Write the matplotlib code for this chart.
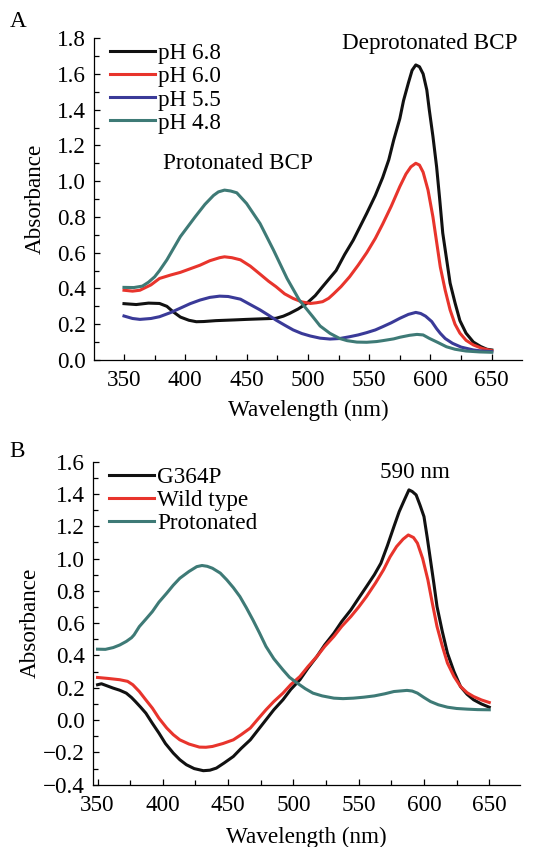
import matplotlib.pyplot as plt
from matplotlib.ticker import MultipleLocator

plt.rcParams['font.family'] = ['Liberation Serif', 'DejaVu Serif']

# Panel A: BCP spectra at different pH
wl_a68 = [350, 360, 370, 379, 385, 390, 396, 403, 409, 415, 425, 440, 450, 462, 474, 480, 485, 492, 499,
          506, 512, 523, 530, 537, 548, 555, 561, 566, 570, 575, 578, 582, 585, 588, 591, 594, 597, 599,
          602, 605, 607.5, 610, 613, 616, 620, 624, 629, 635, 641, 646, 650]
abs_a68 = [0.315, 0.31, 0.318, 0.316, 0.30, 0.27, 0.24, 0.222, 0.214, 0.215, 0.22, 0.224, 0.227, 0.23,
           0.233, 0.245, 0.26, 0.285, 0.316, 0.36, 0.41, 0.50, 0.59, 0.67, 0.82, 0.92, 1.02, 1.12, 1.23,
           1.35, 1.45, 1.55, 1.62, 1.65, 1.64, 1.60, 1.51, 1.40, 1.25, 1.08, 0.90, 0.71, 0.57, 0.43, 0.32,
           0.22, 0.15, 0.10, 0.075, 0.06, 0.056]

wl_a60 = [350, 357, 363, 372, 379, 388, 396, 404, 412, 420, 428, 432, 438, 445, 453, 461, 468, 474, 481,
          488, 495, 502, 507, 512, 517, 521, 527, 534, 541, 548, 555, 561, 568, 575, 580, 584, 588, 591,
          594, 598, 602, 605, 608, 612, 616, 620, 624, 629, 635, 642, 650]
abs_a60 = [0.39, 0.385, 0.39, 0.42, 0.456, 0.475, 0.49, 0.51, 0.53, 0.555, 0.572, 0.577, 0.572, 0.56,
           0.525, 0.48, 0.44, 0.41, 0.37, 0.344, 0.325, 0.316, 0.32, 0.326, 0.345, 0.37, 0.41, 0.465, 0.53,
           0.60, 0.68, 0.76, 0.86, 0.97, 1.04, 1.08, 1.10, 1.09, 1.05, 0.95, 0.80, 0.66, 0.52, 0.39, 0.28,
           0.20, 0.15, 0.11, 0.084, 0.065, 0.052]

wl_a55 = [350, 357, 363, 372, 379, 388, 396, 404, 412, 420, 428, 435, 445, 453, 461, 468, 474, 481, 488,
          495, 502, 510, 518, 526, 534, 541, 548, 555, 561, 568, 575, 582, 588, 592, 596, 601, 605, 608,
          612, 618, 625, 635, 642, 650]
abs_a55 = [0.246, 0.232, 0.227, 0.232, 0.242, 0.265, 0.29, 0.315, 0.335, 0.35, 0.357, 0.355, 0.34, 0.31,
           0.28, 0.25, 0.223, 0.195, 0.168, 0.148, 0.134, 0.122, 0.117, 0.12, 0.13, 0.14, 0.153, 0.168,
           0.186, 0.208, 0.233, 0.255, 0.266, 0.26, 0.245, 0.215, 0.175, 0.149, 0.12, 0.093, 0.072, 0.056,
           0.05, 0.047]

wl_a48 = [350, 358, 365, 370, 375, 379, 385, 396, 408, 416, 423, 427, 432, 437, 442, 450, 461, 472, 483,
          493, 504, 510, 518, 526, 532, 540, 548, 556, 561, 570, 575, 583, 589, 594, 599, 606, 613, 620,
          629, 640, 650]
abs_a48 = [0.406, 0.405, 0.413, 0.435, 0.465, 0.50, 0.56, 0.69, 0.80, 0.87, 0.92, 0.94, 0.95, 0.945,
           0.935, 0.875, 0.763, 0.614, 0.456, 0.335, 0.242, 0.19, 0.149, 0.12, 0.108, 0.10, 0.099, 0.103,
           0.108, 0.118, 0.127, 0.138, 0.143, 0.14, 0.121, 0.098, 0.074, 0.06, 0.05, 0.045, 0.043]

# Panel B: difference spectra
wl_b_g364p = [350, 353, 358, 362, 367, 372, 376, 379, 383, 387, 392, 397, 402, 408, 413, 418, 424, 431,
              436, 441, 447, 454, 460, 467, 473, 479, 485, 492, 498, 505, 511, 518, 524, 531, 537, 544,
              550, 556, 562, 567, 572, 577, 581, 585, 588.5, 591, 594, 597, 600, 602.5, 605, 607.5, 610,
              614, 618, 623, 628, 633, 638, 644, 650]
abs_b_g364p = [0.219, 0.225, 0.21, 0.198, 0.185, 0.167, 0.14, 0.115, 0.08, 0.043, -0.02, -0.08, -0.145,
               -0.204, -0.245, -0.276, -0.30, -0.313, -0.31, -0.297, -0.265, -0.225, -0.175, -0.122, -0.06,
               0.002, 0.064, 0.126, 0.19, 0.25, 0.32, 0.394, 0.466, 0.538, 0.61, 0.682, 0.755, 0.827, 0.90,
               0.971, 1.08, 1.198, 1.29, 1.363, 1.425, 1.415, 1.394, 1.33, 1.26, 1.13, 0.99, 0.85, 0.703,
               0.55, 0.414, 0.30, 0.208, 0.16, 0.126, 0.10, 0.08]

wl_b_wt = [350, 358, 367, 373, 377, 382, 387, 392, 397, 403, 408, 413, 420, 428, 433, 438, 446, 454, 460,
           467, 473, 479, 485, 492, 498, 505, 511, 518, 524, 531, 537, 544, 550, 556, 563, 569, 574, 579,
           584, 588, 592, 595, 599, 603, 606.5, 610, 614, 618, 623, 628, 633, 638, 644, 650]
abs_b_wt = [0.264, 0.258, 0.25, 0.24, 0.219, 0.177, 0.125, 0.074, 0.012, -0.049, -0.09, -0.122, -0.148,
            -0.167, -0.168, -0.163, -0.145, -0.122, -0.09, -0.049, 0.008, 0.064, 0.115, 0.167, 0.22, 0.27,
            0.33, 0.394, 0.456, 0.518, 0.58, 0.641, 0.70, 0.765, 0.85, 0.93, 1.01, 1.074, 1.12, 1.146,
            1.13, 1.095, 1.0, 0.868, 0.72, 0.579, 0.46, 0.353, 0.27, 0.208, 0.17, 0.146, 0.125, 0.109]

wl_b_prot = [350, 356, 362, 367, 372, 376, 378, 382, 387, 392, 397, 403, 408, 413, 420, 426, 430, 434,
             438, 444, 449, 454, 459, 464, 469, 474, 479, 485, 492, 497, 503, 509, 515, 522, 531, 538,
             546, 554, 562, 570, 577, 587, 591, 595, 600, 605, 611, 618, 625, 633, 641, 650]
abs_b_prot = [0.439, 0.438, 0.449, 0.465, 0.487, 0.51, 0.528, 0.579, 0.625, 0.672, 0.73, 0.786, 0.835,
              0.878, 0.92, 0.95, 0.957, 0.952, 0.94, 0.91, 0.868, 0.82, 0.765, 0.695, 0.62, 0.54, 0.456,
              0.38, 0.311, 0.265, 0.229, 0.195, 0.167, 0.15, 0.136, 0.133, 0.136, 0.142, 0.15, 0.163,
              0.177, 0.184, 0.18, 0.167, 0.14, 0.115, 0.095, 0.08, 0.072, 0.068, 0.065, 0.064]

black = '#111111'
red = '#e8342c'
blue = '#3a3a98'
teal = '#3e7a76'

fig = plt.figure(figsize=(5.43, 8.47), dpi=100)
axA = fig.add_axes([0.173, 0.575, 0.788, 0.380])
axB = fig.add_axes([0.171, 0.0735, 0.787, 0.3815])

lw = 2.2
fs = 16.7


def style(ax, xpad, ypad):
    for s in ['top', 'right']:
        ax.spines[s].set_visible(False)
    for s in ['left', 'bottom']:
        ax.spines[s].set_linewidth(0.9)
    ax.xaxis.set_major_locator(MultipleLocator(50))
    ax.xaxis.set_minor_locator(MultipleLocator(25))
    ax.yaxis.set_major_locator(MultipleLocator(0.2))
    ax.yaxis.set_minor_locator(MultipleLocator(0.1))
    ax.tick_params(which='both', direction='in', labelsize=fs, width=0.9)
    ax.tick_params(which='major', length=4.5, pad=6)
    ax.tick_params(axis='x', which='major', pad=7.5)
    ax.tick_params(which='minor', length=3.5)
    ax.set_xlabel('Wavelength (nm)', fontsize=fs, labelpad=xpad)
    ax.set_ylabel('Absorbance', fontsize=fs, labelpad=ypad)
    ax.yaxis.set_major_formatter(plt.FuncFormatter(lambda v, p: ('%.1f' % v).replace('-', '\u2212')))


axA.plot(wl_a68, abs_a68, color=black, lw=lw, label='pH 6.8')
axA.plot(wl_a60, abs_a60, color=red, lw=lw, label='pH 6.0')
axA.plot(wl_a55, abs_a55, color=blue, lw=lw, label='pH 5.5')
axA.plot(wl_a48, abs_a48, color=teal, lw=lw, label='pH 4.8')
axA.set_xlim(325.5, 674.5)
axA.set_ylim(0, 1.8)
style(axA, 6, 8)
axA.text(599, 1.77, 'Deprotonated BCP', fontsize=fs, ha='center', va='center')
axA.text(443, 1.10, 'Protonated BCP', fontsize=fs, ha='center', va='center')
axA.legend(loc='upper left', bbox_to_anchor=(0.0, 1.035), frameon=False, fontsize=fs,
           handlelength=1.95, handletextpad=0.13, labelspacing=0.08, borderaxespad=0.3)
fig.text(0.033, 0.975, 'A', fontsize=fs, ha='center', va='center')

axB.plot(wl_b_g364p, abs_b_g364p, color=black, lw=lw, label='G364P')
axB.plot(wl_b_wt, abs_b_wt, color=red, lw=lw, label='Wild type')
axB.plot(wl_b_prot, abs_b_prot, color=teal, lw=lw, label='Protonated')
axB.set_xlim(346.4, 673.7)
axB.set_ylim(-0.4, 1.6)
style(axB, 8, 1)
axB.text(593, 1.53, '590 nm', fontsize=fs, ha='center', va='center')
axB.legend(loc='upper left', bbox_to_anchor=(0.0, 1.035), frameon=False, fontsize=fs,
           handlelength=1.95, handletextpad=0.13, labelspacing=0.08, borderaxespad=0.3)
fig.text(0.031, 0.467, 'B', fontsize=fs, ha='center', va='center')

fig.savefig('out.png', dpi=100)
